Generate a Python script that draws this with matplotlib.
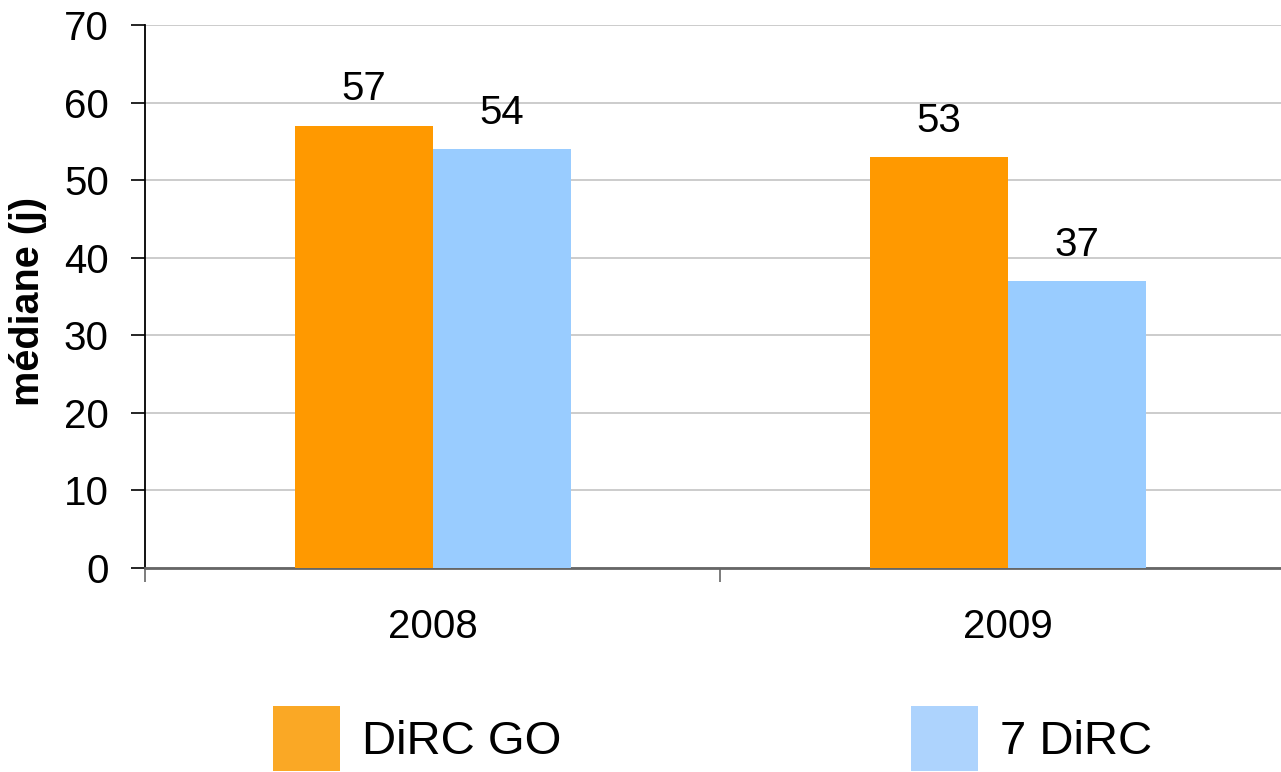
import matplotlib
matplotlib.use("Agg")
import matplotlib.pyplot as plt
from matplotlib.patches import Patch
import numpy as np

plt.rcParams['font.family'] = ['Liberation Sans', 'DejaVu Sans']

categories = ["2008", "2009"]
series_names = ["DiRC GO", "7 DiRC"]
dirc_go = [57, 53]
sept_dirc = [54, 37]
y_ticks = [0, 10, 20, 30, 40, 50, 60, 70]

bar_colors = ["#FF9900", "#99CCFF"]
legend_colors = ["#FAA825", "#ADD3FD"]

W, H = 1281, 772
fig = plt.figure(figsize=(W / 100, H / 100), dpi=100)
ax = fig.add_axes([145 / W, 1 - 568 / H, 1 - 145 / W, (568 - 25) / H])

x = np.arange(len(categories))
bw = 0.24
b1 = ax.bar(x - bw / 2, dirc_go, bw, color=bar_colors[0], zorder=3)
b2 = ax.bar(x + bw / 2, sept_dirc, bw, color=bar_colors[1], zorder=3)
for bars in (b1, b2):
    ax.bar_label(bars, labels=[str(v) for v in bars.datavalues], padding=12.5,
                 fontsize=29, color='black')

ax.set_yticks(y_ticks)
ax.set_xticks(x)
ax.set_xticklabels(categories)
ax.set_xticks([-0.5, 0.5, 1.5], minor=True)
ax.set_ylim(0, 70)
ax.set_xlim(-0.5, -0.5 + (W - 145) / 575)

ax.tick_params(axis='y', labelsize=29, length=10, width=1.2, pad=16, direction='out', color='black')
ax.tick_params(axis='x', which='major', labelsize=29, length=0, pad=29)
ax.tick_params(axis='x', which='minor', length=10, width=1.2, direction='out', color='#666666')

ax.yaxis.grid(True, color='#C8C8C8', linewidth=1.3, zorder=0)
ax.set_axisbelow(True)
for s in ('top', 'right'):
    ax.spines[s].set_visible(False)
ax.spines['left'].set_color('black')
ax.spines['left'].set_linewidth(1.3)
ax.spines['bottom'].set_color('#666666')
ax.spines['bottom'].set_linewidth(2)

ax.set_ylabel("médiane (j)", fontsize=28.5, fontweight='bold')
ax.yaxis.set_label_coords((47 - 145) / (W - 145), 0.49)

handles = [Patch(facecolor=c, edgecolor='none') for c in legend_colors]
fig.legend(handles, series_names, loc='lower left', bbox_to_anchor=(273 / W, 1 / H),
           ncol=2, frameon=False, fontsize=34, handlelength=1.42, handleheight=1.74,
           handletextpad=0.47, columnspacing=7.4, borderpad=0, borderaxespad=0)

fig.savefig("out.png", dpi=100)
